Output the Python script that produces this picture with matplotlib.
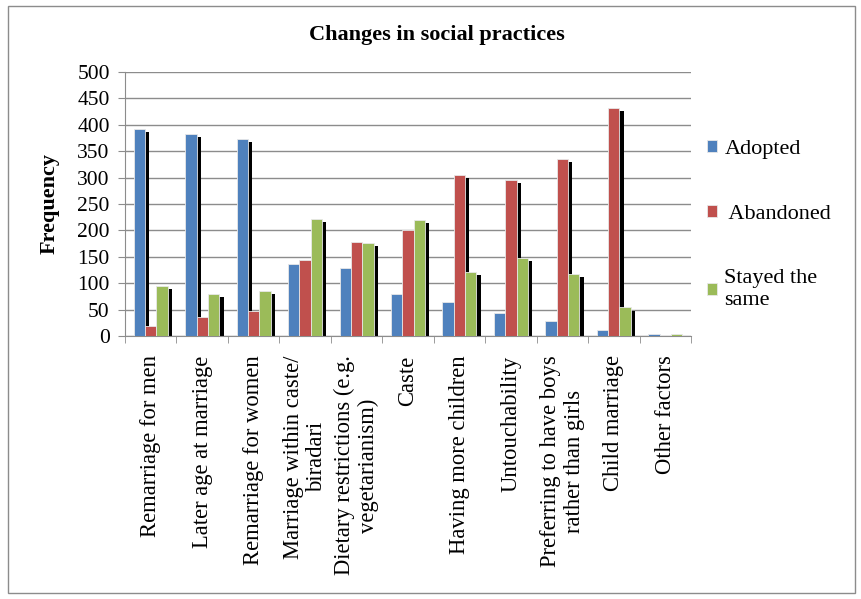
import numpy as np
import matplotlib.pyplot as plt
from matplotlib.patches import Rectangle

categories = [
    "Remarriage for men",
    "Later age at marriage",
    "Remarriage for women",
    "Marriage within caste/\nbiradari",
    "Dietary restrictions (e.g.\nvegetarianism)",
    "Caste",
    "Having more children",
    "Untouchability",
    "Preferring to have boys\nrather than girls",
    "Child marriage",
    "Other factors",
]
adopted = [392, 383, 374, 137, 129, 79, 64, 43, 28, 12, 3]
abandoned = [18, 36, 48, 143, 178, 200, 305, 296, 335, 432, 0]
stayed = [95, 80, 85, 222, 176, 220, 121, 148, 118, 54, 4]

series = [("Adopted", adopted, "#4F81BD"),
          (" Abandoned", abandoned, "#C0504D"),
          ("Stayed the\nsame", stayed, "#9BBB59")]

plt.rcParams['font.family'] = ['Liberation Serif', 'DejaVu Serif']

fig = plt.figure(figsize=(8.62, 5.99), dpi=100)
ax = fig.add_axes([125 / 862, 1 - 336 / 599, 566 / 862, 264 / 599])

x = np.arange(len(categories))
w = 0.22
offsets = [-w, 0, w]

# black drop shadows drawn under all bars
for (name, vals, col), off in zip(series, offsets):
    sh = np.maximum(np.array(vals) - 6, 0)
    ax.bar(x + off + 0.085, sh, width=w, color="black", zorder=2)

handles = []
for (name, vals, col), off in zip(series, offsets):
    b = ax.bar(x + off, vals, width=w, color=col, edgecolor="#e8e8e8",
               linewidth=0.6, zorder=3, label=name)
    handles.append(b)

ax.set_xlim(-0.5, len(categories) - 0.5)
ax.set_ylim(0, 500)
ax.set_yticks(np.arange(0, 501, 50))
ax.yaxis.grid(True, color="#8c8c8c", linewidth=1)
ax.set_axisbelow(True)
for s in ["top", "right"]:
    ax.spines[s].set_visible(False)
for s in ["left", "bottom"]:
    ax.spines[s].set_color("#8c8c8c")
ax.tick_params(axis="y", colors="#8c8c8c", length=5, labelsize=15.5,
               labelcolor="black", pad=6)

ax.set_xticks(x)
ax.set_xticklabels(categories, rotation=90, fontsize=16.3, ha="center",
                   va="top", multialignment="center", linespacing=1.15)
ax.set_xticks(np.arange(-0.5, len(categories), 1), minor=True)
ax.tick_params(axis="x", which="major", length=0, pad=14)
ax.tick_params(axis="x", which="minor", length=5, color="#8c8c8c")

ax.set_ylabel("Frequency", fontsize=16, fontweight="bold", labelpad=13)
fig.text(437 / 862, 1 - 35 / 599, "Changes in social practices",
         ha="center", va="center", fontsize=16, fontweight="bold")

ax.legend(handles=handles, loc="upper left", bbox_to_anchor=(1.0, 0.80),
          frameon=False, fontsize=16, handlelength=0.45, handleheight=0.45,
          handletextpad=0.35, labelspacing=2.05, borderaxespad=0.3)

fig.patches.append(Rectangle((8 / 862, 6 / 599), 847 / 862, 587 / 599,
                             transform=fig.transFigure, fill=False,
                             edgecolor="#8c8c8c", linewidth=1))

fig.savefig("out.png", dpi=100)
